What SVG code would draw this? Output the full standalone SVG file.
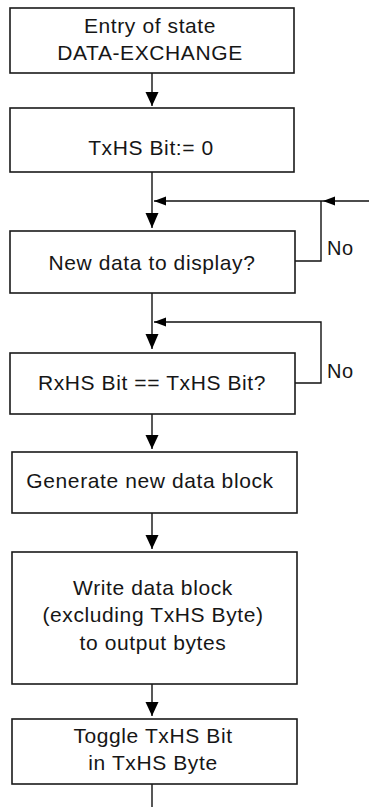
<svg xmlns="http://www.w3.org/2000/svg" width="369" height="807" viewBox="0 0 369 807">
  <style>
    .box { fill: #ffffff; stroke: #1a1a1a; stroke-width: 1.6; }
    .lbl { font-family: "Liberation Sans", Arial, sans-serif; font-size: 21px; letter-spacing: 0.6px; fill: #161616; text-anchor: middle; }
    .no { font-family: "Liberation Sans", Arial, sans-serif; font-size: 20px; letter-spacing: 0.5px; fill: #161616; }
    .wire { fill: none; stroke: #111111; stroke-width: 1.4; }
    .head { fill: #000000; }
  </style>
  <rect width="369" height="807" fill="#ffffff"/>

  <!-- connectors -->
  <g id="connectors">
    <!-- main flow -->
    <path class="wire" d="M152 73 V106"/>
    <path class="wire" d="M152 172 V228"/>
    <path class="wire" d="M152 293 V349"/>
    <path class="wire" d="M152 414 V449"/>
    <path class="wire" d="M152 513 V549"/>
    <path class="wire" d="M152 684 V716"/>
    <path class="wire" d="M152 784 V807"/>
    <!-- "No" loop around New data to display? and outer re-entry -->
    <path class="wire" d="M295 261 H321 V201"/>
    <path class="wire" d="M369 201 H154"/>
    <!-- "No" loop around RxHS Bit == TxHS Bit? -->
    <path class="wire" d="M295 383 H321 V322 H154"/>

    <!-- down arrowheads -->
    <polygon class="head" points="145.5,92 158.5,92 152,106"/>
    <polygon class="head" points="145.5,213 158.5,213 152,228"/>
    <polygon class="head" points="145.5,334 158.5,334 152,349"/>
    <polygon class="head" points="145.5,435 158.5,435 152,449"/>
    <polygon class="head" points="145.5,535 158.5,535 152,549"/>
    <polygon class="head" points="145.5,702 158.5,702 152,716"/>
    <!-- left arrowheads -->
    <polygon class="head" points="154,201 166,196.5 166,205.5"/>
    <polygon class="head" points="323,201 335,196.5 335,205.5"/>
    <polygon class="head" points="154,322 166,317.5 166,326.5"/>

    <text class="no" x="327" y="255">No</text>
    <text class="no" x="327" y="378">No</text>
  </g>

  <g id="entry">
    <rect class="box" x="10" y="8" width="284" height="65"/>
    <text class="lbl" x="150" y="33">Entry of state</text>
    <text class="lbl" x="150" y="60">DATA-EXCHANGE</text>
  </g>

  <g id="reset-txhs">
    <rect class="box" x="10" y="108" width="284" height="64"/>
    <text class="lbl" x="151" y="155">TxHS Bit:= 0</text>
  </g>

  <g id="new-data">
    <rect class="box" x="10" y="231" width="285" height="62"/>
    <text class="lbl" x="152" y="270">New data to display?</text>
  </g>

  <g id="handshake">
    <rect class="box" x="10" y="353" width="285" height="61"/>
    <text class="lbl" x="152" y="390">RxHS Bit == TxHS Bit?</text>
  </g>

  <g id="generate">
    <rect class="box" x="12" y="452" width="285" height="61"/>
    <text class="lbl" x="150" y="488">Generate new data block</text>
  </g>

  <g id="write">
    <rect class="box" x="12" y="552" width="285" height="132"/>
    <text class="lbl" x="153" y="595">Write data block</text>
    <text class="lbl" x="153" y="622">(excluding TxHS Byte)</text>
    <text class="lbl" x="153" y="650">to output bytes</text>
  </g>

  <g id="toggle">
    <rect class="box" x="12" y="719" width="285" height="65"/>
    <text class="lbl" x="153" y="743">Toggle TxHS Bit</text>
    <text class="lbl" x="153" y="770">in TxHS Byte</text>
  </g>
</svg>
